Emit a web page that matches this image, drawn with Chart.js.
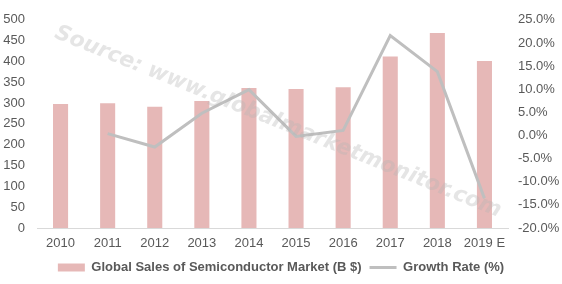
<!DOCTYPE html>
<html>
<head>
<meta charset="utf-8">
<script src="https://cdn.jsdelivr.net/npm/chart.js@4"></script>
<style>
  html, body { margin: 0; padding: 0; background: #fff; }
  #wrap { width: 562px; height: 284px; }
</style>
</head>
<body>
<div id="wrap"><canvas id="combo-chart"></canvas></div>
<script>
const years = ["2010", "2011", "2012", "2013", "2014", "2015", "2016", "2017", "2018", "2019 E"];
const sales = [298, 299.5, 291, 305, 336, 334, 338, 412, 468, 401];
const growth = [null, 0.4, -2.5, 4.8, 9.9, -0.2, 1.1, 21.6, 13.8, -13.6];
const salesTicks = [0, 50, 100, 150, 200, 250, 300, 350, 400, 450, 500];
const growthTicks = [-20, -15, -10, -5, 0, 5, 10, 15, 20, 25];

const watermark = {
  id: "watermark",
  afterDatasetsDraw(chart) {
    const ctx = chart.ctx;
    const text = "Source: www.globalmarketmonitor.com";
    ctx.save();
    ctx.translate(278, 122);
    ctx.rotate(22 * Math.PI / 180);
    ctx.font = "italic bold 20px 'DejaVu Sans'";
    const w = ctx.measureText(text).width;
    const size = 20 * 480 / w;
    ctx.font = "italic bold " + size + "px 'DejaVu Sans'";
    ctx.fillStyle = "rgba(180,180,180,0.35)";
    ctx.textAlign = "center";
    ctx.textBaseline = "middle";
    ctx.fillText(text, 0, 0);
    ctx.restore();
  }
};

Chart.defaults.font.family = "'Liberation Sans', Arial, sans-serif";
Chart.defaults.font.size = 13;
Chart.defaults.color = "#595959";

new Chart(document.getElementById("combo-chart"), {
  type: "bar",
  data: {
    labels: years,
    datasets: [
      {
        label: "Global Sales of Semiconductor Market (B $)",
        data: sales,
        backgroundColor: "#E6B8B7",
        yAxisID: "y",
        barPercentage: 0.32,
        categoryPercentage: 1,
        pointStyle: "rect",
        order: 2
      },
      {
        type: "line",
        label: "Growth Rate (%)",
        data: growth,
        borderColor: "#BFBFBF",
        backgroundColor: "#BFBFBF",
        borderWidth: 3,
        pointRadius: 0,
        tension: 0,
        yAxisID: "y1",
        pointStyle: "line",
        order: 1
      }
    ]
  },
  options: {
    responsive: true,
    maintainAspectRatio: false,
    animation: false,
    layout: { padding: { top: 12, left: 3, right: 3, bottom: 0 } },
    plugins: {
      legend: {
        position: "bottom",
        labels: {
          usePointStyle: true,
          pointStyleWidth: 27,
          boxHeight: 8,
          padding: 8,
          font: { weight: "bold", size: 13 },
          color: "#595959",
          sort: (a, b) => a.datasetIndex - b.datasetIndex
        }
      },
      tooltip: { enabled: false }
    },
    scales: {
      x: {
        grid: { display: false, drawTicks: false },
        border: { display: true, color: "#D9D9D9" },
        ticks: { padding: 8, maxRotation: 0 },
        afterFit: axis => { axis.height = 25; }
      },
      y: {
        position: "left",
        min: 0,
        max: 500,
        afterBuildTicks: axis => { axis.ticks = salesTicks.map(v => ({ value: v })); },
        afterFit: axis => { axis.width = 34; },
        grid: { display: false, drawTicks: false },
        border: { display: false },
        ticks: { padding: 12 }
      },
      y1: {
        position: "right",
        min: -20,
        max: 25,
        afterBuildTicks: axis => { axis.ticks = growthTicks.map(v => ({ value: v })); },
        afterFit: axis => { axis.width = 51; },
        grid: { display: false, drawTicks: false },
        border: { display: false },
        ticks: { padding: 10, callback: v => v.toFixed(1) + "%" }
      }
    }
  },
  plugins: [watermark]
});
</script>
</body>
</html>
